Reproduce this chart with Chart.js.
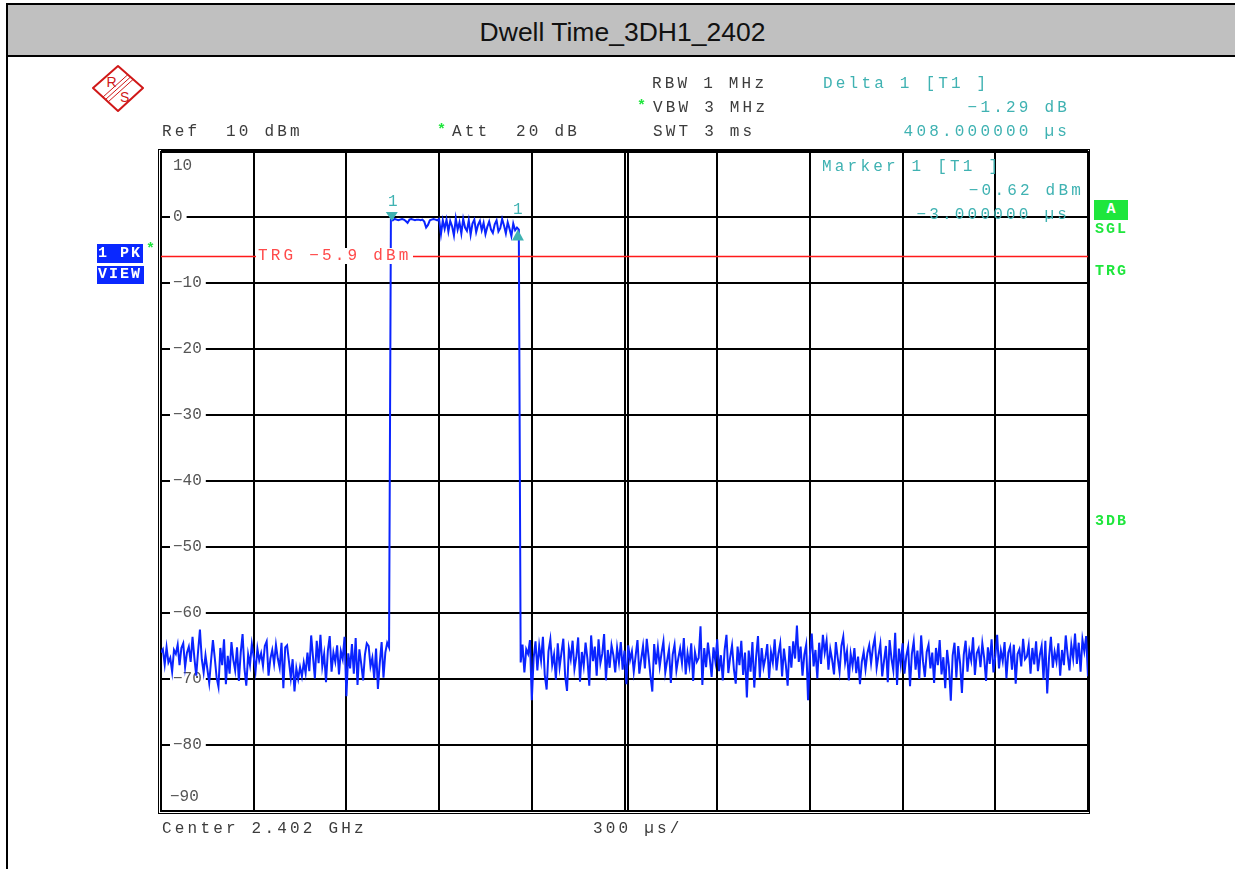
<!DOCTYPE html>
<html>
<head>
<meta charset="utf-8">
<script src="https://cdn.jsdelivr.net/npm/chart.js@4.4.0/dist/chart.umd.min.js"></script>
<style>
  html, body { margin: 0; padding: 0; background: #fff; width: 1235px; height: 869px; overflow: hidden; position: relative; }
  #chart { position: absolute; left: 0; top: 0; }
  .frame-left { position: absolute; left: 6px; top: 3px; width: 2px; height: 866px; background: #000; }
  .titlebar { position: absolute; left: 6px; top: 3px; width: 1229px; height: 50px; background: #c0c0c0;
              border-top: 2px solid #000; border-bottom: 2px solid #000; border-left: 2px solid #000;
              font: 26.5px "Liberation Sans", Arial, sans-serif; color: #111; text-align: center; line-height: 54px; }
  .t { position: absolute; font-family: "Liberation Mono", "Courier New", monospace; font-size: 16px;
       letter-spacing: 3.2px; line-height: 16px; color: #3c3c3c; white-space: pre; z-index: 2; }
  .teal { color: #3fb2b2; }
  .star { position: absolute; color: #1ee63c; font: bold 15px "Liberation Mono", monospace; z-index: 2; }
  .g { position: absolute; color: #1ee63c; font: bold 15px "Liberation Mono", monospace; letter-spacing: 2px; line-height: 16px; z-index: 2; }
  .box { position: absolute; color: #fff; font: bold 15px "Liberation Mono", monospace; letter-spacing: 2px;
         line-height: 19px; z-index: 2; white-space: pre; }
  .trg { position: absolute; left: 256px; top: 248px; background: #fff; color: #ff4a4a; padding: 0 1px 0 2px; z-index: 2; }
</style>
</head>
<body>
<div class="frame-left"></div>
<div class="titlebar">Dwell Time_3DH1_2402</div>

<svg style="position:absolute;left:92px;top:64px" width="52" height="50" viewBox="0 0 52 50">
  <polygon points="26,2 51,24 26,47 1,24" fill="none" stroke="#d01818" stroke-width="2" stroke-linejoin="round"/>
  <line x1="36" y1="10.5" x2="11" y2="33" stroke="#d01818" stroke-width="1"/>
  <line x1="38.5" y1="13" x2="13.5" y2="35.5" stroke="#d01818" stroke-width="1"/>
  <line x1="41" y1="15.5" x2="16" y2="38" stroke="#d01818" stroke-width="1"/>
  <text x="14.5" y="22.5" fill="#d01818" font-family="Liberation Sans, Arial" font-size="14">R</text>
  <text x="28" y="37.5" fill="#d01818" font-family="Liberation Sans, Arial" font-size="14">S</text>
</svg>

<div class="t" style="left:652px;top:76px">RBW 1 MHz</div>
<div class="star" style="left:637px;top:98px">*</div>
<div class="t" style="left:653px;top:100px">VBW 3 MHz</div>
<div class="t" style="left:653px;top:124px">SWT 3 ms</div>
<div class="t" style="left:162px;top:124px">Ref  10 dBm</div>
<div class="star" style="left:437px;top:122px">*</div>
<div class="t" style="left:452px;top:124px">Att  20 dB</div>
<div class="t teal" style="left:823px;top:76px">Delta 1 [T1 ]</div>
<div class="t teal" style="right:165px;top:100px">−1.29 dB</div>
<div class="t teal" style="right:165px;top:124px">408.000000 µs</div>
<div class="t teal" style="left:822px;top:159px">Marker 1 [T1 ]</div>
<div class="t teal" style="right:151px;top:183px">−0.62 dBm</div>
<div class="t teal" style="right:165px;top:207px">−3.000000 µs</div>
<div class="t" style="left:162px;top:821px">Center 2.402 GHz</div>
<div class="t" style="left:593px;top:821px">300 µs/</div>
<div class="t trg">TRG −5.9 dBm</div>

<div class="box" style="left:97px;top:244px;width:45px;height:19px;background:#0a28ff;padding-left:1px">1 PK</div>
<div class="box" style="left:97px;top:266px;width:46px;height:18px;background:#0a28ff;padding-left:1px;line-height:18px">VIEW</div>
<div class="star" style="left:146px;top:241px">*</div>
<div class="box" style="left:1094px;top:200px;width:34px;height:20px;background:#1ee63c;text-align:center;line-height:20px;letter-spacing:0">A</div>
<div class="g" style="left:1095px;top:222px">SGL</div>
<div class="g" style="left:1095px;top:264px">TRG</div>
<div class="g" style="left:1095px;top:514px">3DB</div>

<canvas id="chart" width="1235" height="869"></canvas>

<script>
// sweep: 300 us/div, 10 divisions, trigger at 0 us
const sweepStartUs = -750;
const sweepEndUs = 2250;
const yTicks = [10, 0, -10, -20, -30, -40, -50, -60, -70, -80, -90];
const triggerLevel = -5.9;

// marker 1 and delta marker (time in us, level in dBm)
const markerTimesUs = [-3, 405];
const markerLevels = [-0.62, -1.91];

// trace, dBm
const noiseBefore = [
  -66.0, -65.5, -67.8, -65.2, -67.5, -66.8, -68.9, -65.6, -66.2, -64.8,
  -67.9, -65.3, -64.6, -68.2, -66.0, -65.1, -67.4, -63.6, -66.8, -69.5,
  -65.8, -62.5, -67.0, -69.0, -66.4, -68.5, -70.6, -67.2, -64.1, -66.8,
  -69.8, -71.2, -65.3, -67.9, -64.0, -70.8, -66.5, -69.2, -64.4, -67.1,
  -68.7, -65.2, -70.3, -66.0, -63.2, -68.4, -71.0, -66.3, -67.9, -64.7,
  -66.6, -68.8, -65.4, -67.2, -66.1, -68.0, -65.0, -64.3, -69.5, -66.9,
  -65.6, -67.7, -64.8, -66.9, -68.3, -64.5, -71.4, -65.2, -64.9, -67.3,
  -69.8, -67.0, -71.9, -68.4, -70.0, -68.2, -69.6, -67.5, -69.1, -66.0,
  -68.8, -63.4, -66.7, -69.9, -64.2, -67.6, -63.3, -68.1, -66.2, -70.5,
  -65.7, -63.5, -68.9, -66.0, -67.4, -64.9, -69.3, -65.8, -67.0, -63.6,
  -72.6, -66.1, -68.4, -64.7, -69.2, -63.8, -70.9, -65.5, -67.7, -70.2,
  -66.3, -64.6, -65.0, -68.1, -66.8, -69.9, -65.4, -71.5, -67.6, -64.4,
  -69.8, -66.0, -64.5, -65.2
];
const pulseTop = [
  -0.4, -0.5, -0.3, -0.4, -0.5, -0.4, -0.3, -0.4, -0.6, -0.9,
  -0.4, -0.3, -0.4, -0.5, -0.4, -0.4, -0.5, -0.4, -0.7, -1.6,
  -1.2, -0.5, -0.4, -0.3, -0.4, -0.5,
  -0.3, -2.6, -0.5, -1.8, -0.4, -2.2, -0.6, -1.4, -2.8, -0.2,
  -1.9, -0.8, -2.5, -0.3, -1.6, -2.1, -0.5, -2.7, -1.0, -0.4,
  -2.3, -1.2, -0.6, -2.0, -0.9, -2.6, -1.5, -0.7, -1.9, -2.4,
  -1.1, -0.5, -2.2, -1.7, -0.3, -1.3, -2.5, -0.8, -1.8, -2.9,
  -1.0, -2.0, -1.6, -1.9
];
const noiseAfter = [
  -67.5, -64.8, -69.0, -65.5, -66.2, -64.1, -73.2, -66.8, -64.3, -68.7,
  -65.0, -67.2, -63.6, -69.4, -71.6, -65.8, -64.0, -67.9, -66.3, -70.1,
  -64.6, -68.2, -66.0, -63.9, -69.6, -71.8, -65.4, -67.0, -64.2, -68.5,
  -66.7, -63.7, -70.4, -65.9, -68.0, -64.5, -66.9, -71.0, -63.4, -67.3,
  -65.1, -69.5, -64.0, -67.6, -66.2, -63.2, -70.2, -65.6, -68.3, -64.9,
  -66.4, -69.0, -65.3, -67.5, -64.4, -68.6, -65.7, -70.8, -64.9, -67.1,
  -65.8, -68.9, -66.5, -64.1, -69.2, -67.0, -65.0, -68.4, -63.9, -66.6,
  -69.5, -71.9, -64.7, -67.8, -65.2, -68.1, -66.0, -64.3, -69.0, -67.2,
  -65.5, -70.6, -66.3, -64.8, -68.7, -66.9, -65.4, -67.6, -63.8, -69.3,
  -66.1, -68.0, -64.6, -70.3, -65.9, -67.4, -66.8, -62.0, -70.9, -65.3,
  -68.2, -64.5, -66.9, -69.7, -65.2, -67.3, -64.0, -68.8, -66.4, -70.2,
  -65.6, -63.3, -69.1, -66.7, -64.9, -68.5, -70.7, -65.1, -67.9, -64.2,
  -69.4, -66.0, -72.8, -65.7, -68.9, -64.4, -71.3, -66.6, -63.5, -69.8,
  -65.3, -68.2, -66.8, -64.7, -70.0, -65.9, -67.5, -64.0, -68.7, -66.2,
  -64.6, -69.6, -65.4, -67.8, -71.0, -65.0, -68.3, -64.3, -66.9, -61.9,
  -67.4, -65.1, -69.5, -66.3, -64.8, -73.2, -66.5, -63.1, -68.1, -65.6,
  -69.9, -64.5, -67.7, -63.3, -66.0, -64.2, -68.6, -65.5, -67.1, -69.3,
  -64.4, -66.8, -68.9, -65.0, -63.6, -67.5, -65.8, -70.2, -66.2, -68.0,
  -65.3, -69.1, -66.6, -70.8, -67.4, -65.9, -68.5, -66.1, -64.9, -67.6,
  -65.2, -63.8, -68.3, -66.4, -64.7, -69.6, -67.2, -65.0, -70.5, -64.1,
  -66.9, -68.7, -63.0, -70.9, -65.4, -67.8, -64.6, -69.2, -66.5, -65.1,
  -71.1, -66.2, -64.3, -68.6, -65.7, -70.0, -63.4, -67.3, -69.7, -65.9,
  -64.8, -68.4, -66.0, -70.6, -65.3, -67.9, -64.1, -69.3, -66.7, -71.4,
  -65.6, -68.1, -73.3, -66.4, -64.5, -69.8, -65.0, -67.6, -72.1, -66.3,
  -64.2, -68.9, -65.8, -67.2, -63.7, -69.4, -66.1, -65.4, -68.2, -64.6,
  -66.8, -70.3, -65.2, -67.7, -64.0, -69.0, -66.5, -63.3, -68.4, -65.7,
  -67.3, -64.4, -69.9, -66.0, -65.1, -68.6, -64.8, -70.7, -66.2, -65.5,
  -68.1, -63.9, -67.0, -66.6, -64.9, -69.2, -65.3, -67.8, -64.3, -68.8,
  -66.4, -65.0, -70.1, -64.2, -72.2, -66.7, -63.6, -68.3, -65.9, -67.4,
  -64.6, -69.5, -65.6, -67.9, -63.4, -66.3, -68.7, -64.8, -66.9, -63.1,
  -67.7, -64.5, -68.9, -64.0, -65.8, -63.5, -69.6
];

const levels = noiseBefore.concat(pulseTop, noiseAfter);
const stepUs = (sweepEndUs - sweepStartUs) / (levels.length - 1);
const trace = levels.map((v, i) => ({ x: sweepStartUs + i * stepUs, y: v }));

const MONO = '"Liberation Mono", "Courier New", monospace';
const TEAL = '#3fb2b2';

// frame, trigger line, markers and the end tick labels
const overlay = {
  id: 'overlay',
  beforeDatasetsDraw(chart) {
    const { ctx, chartArea: a, scales: { x } } = chart;
    ctx.save();
    ctx.strokeStyle = '#000';
    ctx.lineWidth = 1;
    ctx.strokeRect(a.left - 2.5, a.top - 1.5, a.right - a.left + 4, a.bottom - a.top + 4);
    ctx.lineWidth = 2;
    ctx.strokeRect(a.left, a.top + 1, a.right - a.left, a.bottom - a.top - 1);
    const cx = Math.round(x.getPixelForValue((sweepStartUs + sweepEndUs) / 2)) + 3;
    ctx.beginPath(); ctx.moveTo(cx, a.top); ctx.lineTo(cx, a.bottom); ctx.stroke();
    ctx.fillStyle = '#555';
    ctx.font = '16px ' + MONO;
    ctx.textBaseline = 'middle';
    ctx.fillText('10', a.left + 12, a.top + 15);
    ctx.fillText('−90', a.left + 9, a.bottom - 14);
    ctx.restore();
  },
  afterDatasetsDraw(chart) {
    const { ctx, chartArea: a, scales: { x, y } } = chart;
    ctx.save();
    const ty = Math.round(y.getPixelForValue(triggerLevel)) + 0.5;
    ctx.strokeStyle = '#ff1a1a';
    ctx.lineWidth = 1.5;
    ctx.beginPath(); ctx.moveTo(a.left, ty); ctx.lineTo(a.right, ty); ctx.stroke();

    ctx.fillStyle = TEAL;
    ctx.font = '16px ' + MONO;
    ctx.textAlign = 'center';
    ctx.textBaseline = 'middle';
    markerTimesUs.forEach((t, i) => {
      const px = x.getPixelForValue(t);
      const py = y.getPixelForValue(markerLevels[i]);
      ctx.beginPath();
      if (i === 0) {
        ctx.moveTo(px - 6, py - 9); ctx.lineTo(px + 6, py - 9); ctx.lineTo(px, py);
        ctx.closePath(); ctx.fill();
        ctx.fillText('1', px + 1, py - 19);
      } else {
        ctx.moveTo(px - 6, py + 11); ctx.lineTo(px + 6, py + 11); ctx.lineTo(px, py);
        ctx.closePath(); ctx.fill();
        ctx.fillText('1', px, py - 20);
      }
    });
    ctx.restore();
  }
};

new Chart(document.getElementById('chart'), {
  type: 'line',
  data: {
    datasets: [{
      data: trace,
      borderColor: '#0a24ff',
      borderWidth: 2,
      pointRadius: 0,
      tension: 0
    }]
  },
  options: {
    responsive: false,
    animation: false,
    devicePixelRatio: 1,
    layout: { padding: { left: 161, top: 151, right: 147, bottom: 58 } },
    plugins: { legend: { display: false }, tooltip: { enabled: false } },
    scales: {
      x: {
        type: 'linear',
        min: sweepStartUs,
        max: sweepEndUs,
        ticks: { display: false, stepSize: 300 },
        grid: { color: '#000', lineWidth: 2, drawTicks: false },
        border: { display: false },
        afterFit: (s) => { s.height = 0; }
      },
      y: {
        min: -90,
        max: 10,
        afterBuildTicks: (s) => { s.ticks = yTicks.map(v => ({ value: v })); },
        ticks: {
          mirror: true,
          padding: 12,
          color: '#555',
          font: { family: MONO, size: 16 },
          callback: (v) => (v === 10 || v === -90) ? '' : String(v).replace('-', '−'),
          showLabelBackdrop: (c) => c.tick && c.tick.value !== 10 && c.tick.value !== -90,
          backdropColor: '#fff',
          backdropPadding: { left: 3, right: 4, top: 0, bottom: 0 }
        },
        grid: { color: '#000', lineWidth: 2, drawTicks: false },
        border: { display: false },
        afterFit: (s) => { s.width = 0; }
      }
    }
  },
  plugins: [overlay]
});
</script>
</body>
</html>
